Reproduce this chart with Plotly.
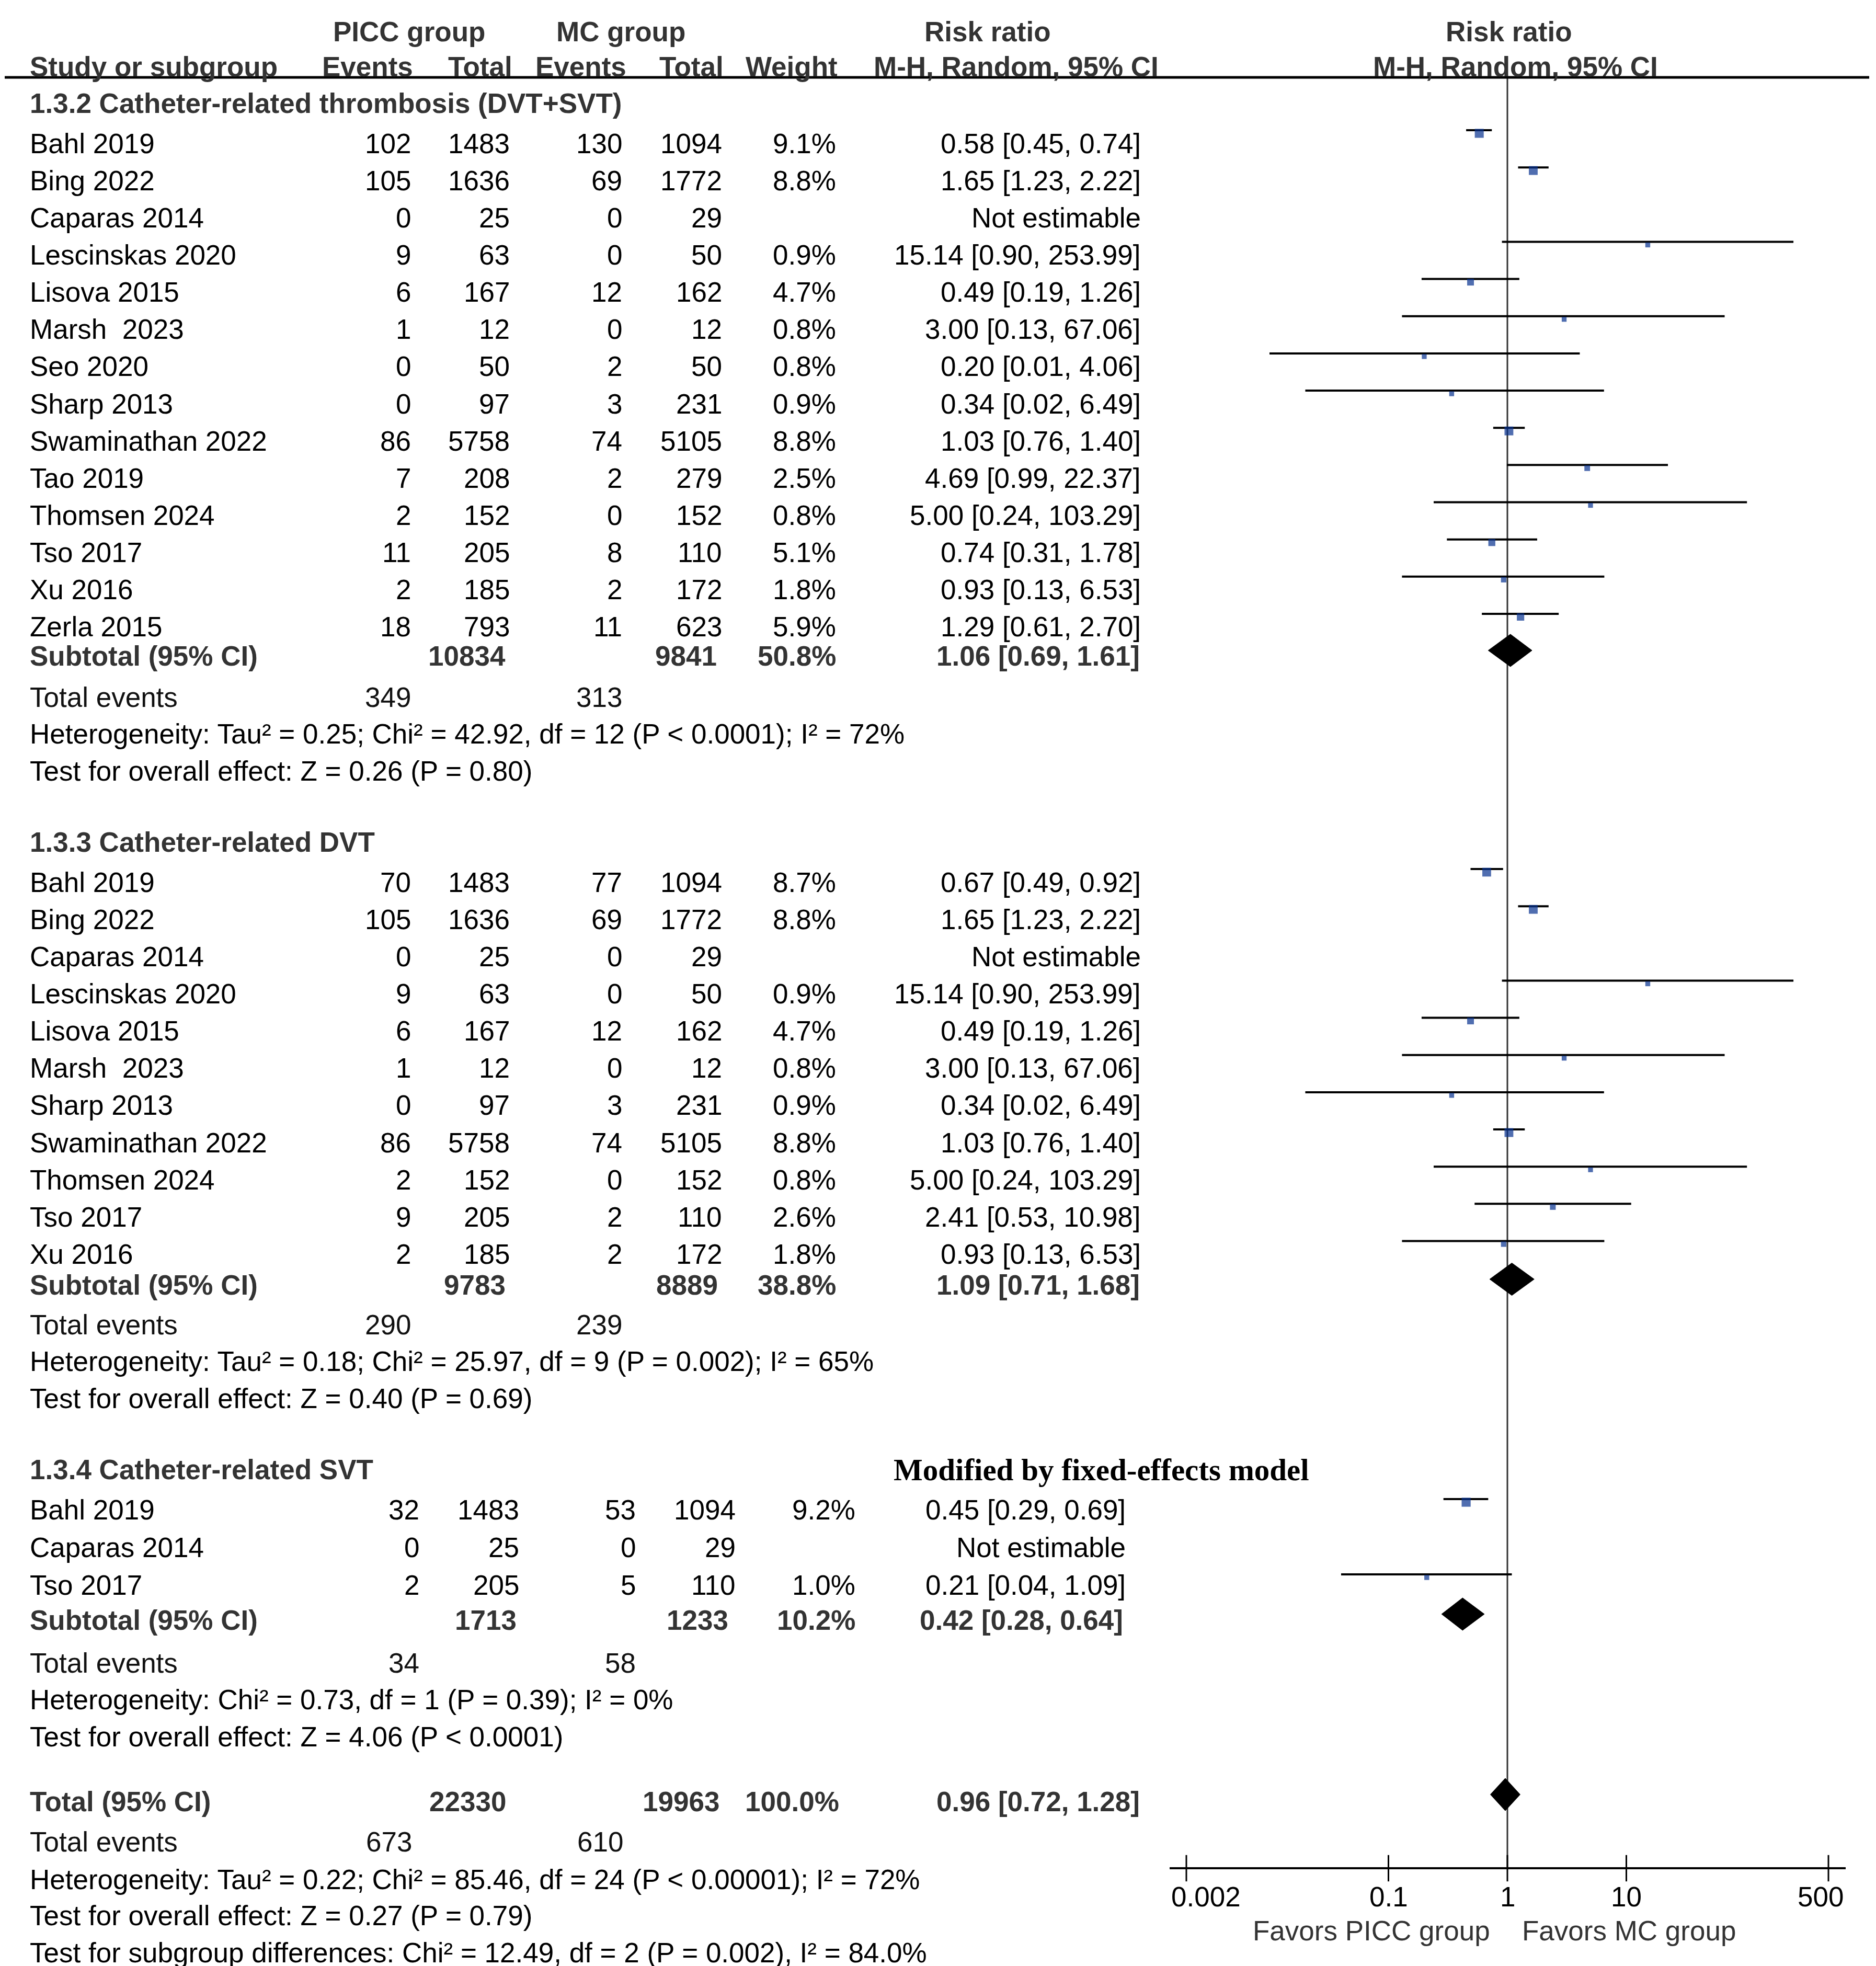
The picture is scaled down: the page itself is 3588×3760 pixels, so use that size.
import plotly.graph_objects as go
import math

# ---------------- data ----------------
# Subgroup 1.3.2
sg1_title = "1.3.2 Catheter-related thrombosis (DVT+SVT)"
sg1_study = ["Bahl 2019", "Bing 2022", "Caparas 2014", "Lescinskas 2020", "Lisova 2015",
             "Marsh\u00a0 2023", "Seo 2020", "Sharp 2013", "Swaminathan 2022", "Tao 2019",
             "Thomsen 2024", "Tso 2017", "Xu 2016", "Zerla 2015"]
sg1_picc_ev = [102, 105, 0, 9, 6, 1, 0, 0, 86, 7, 2, 11, 2, 18]
sg1_picc_n = [1483, 1636, 25, 63, 167, 12, 50, 97, 5758, 208, 152, 205, 185, 793]
sg1_mc_ev = [130, 69, 0, 0, 12, 0, 2, 3, 74, 2, 0, 8, 2, 11]
sg1_mc_n = [1094, 1772, 29, 50, 162, 12, 50, 231, 5105, 279, 152, 110, 172, 623]
sg1_weight = [9.1, 8.8, None, 0.9, 4.7, 0.8, 0.8, 0.9, 8.8, 2.5, 0.8, 5.1, 1.8, 5.9]
sg1_rr = [0.58, 1.65, None, 15.14, 0.49, 3.00, 0.20, 0.34, 1.03, 4.69, 5.00, 0.74, 0.93, 1.29]
sg1_lo = [0.45, 1.23, None, 0.90, 0.19, 0.13, 0.01, 0.02, 0.76, 0.99, 0.24, 0.31, 0.13, 0.61]
sg1_hi = [0.74, 2.22, None, 253.99, 1.26, 67.06, 4.06, 6.49, 1.40, 22.37, 103.29, 1.78, 6.53, 2.70]
sg1_sub = [10834, 9841, 50.8, 1.06, 0.69, 1.61]
sg1_events = [349, 313]
sg1_het = "Heterogeneity: Tau² = 0.25; Chi² = 42.92, df = 12 (P < 0.0001); I² = 72%"
sg1_test = "Test for overall effect: Z = 0.26 (P = 0.80)"

# Subgroup 1.3.3
sg2_title = "1.3.3 Catheter-related DVT"
sg2_study = ["Bahl 2019", "Bing 2022", "Caparas 2014", "Lescinskas 2020", "Lisova 2015",
             "Marsh\u00a0 2023", "Sharp 2013", "Swaminathan 2022", "Thomsen 2024", "Tso 2017", "Xu 2016"]
sg2_picc_ev = [70, 105, 0, 9, 6, 1, 0, 86, 2, 9, 2]
sg2_picc_n = [1483, 1636, 25, 63, 167, 12, 97, 5758, 152, 205, 185]
sg2_mc_ev = [77, 69, 0, 0, 12, 0, 3, 74, 0, 2, 2]
sg2_mc_n = [1094, 1772, 29, 50, 162, 12, 231, 5105, 152, 110, 172]
sg2_weight = [8.7, 8.8, None, 0.9, 4.7, 0.8, 0.9, 8.8, 0.8, 2.6, 1.8]
sg2_rr = [0.67, 1.65, None, 15.14, 0.49, 3.00, 0.34, 1.03, 5.00, 2.41, 0.93]
sg2_lo = [0.49, 1.23, None, 0.90, 0.19, 0.13, 0.02, 0.76, 0.24, 0.53, 0.13]
sg2_hi = [0.92, 2.22, None, 253.99, 1.26, 67.06, 6.49, 1.40, 103.29, 10.98, 6.53]
sg2_sub = [9783, 8889, 38.8, 1.09, 0.71, 1.68]
sg2_events = [290, 239]
sg2_het = "Heterogeneity: Tau² = 0.18; Chi² = 25.97, df = 9 (P = 0.002); I² = 65%"
sg2_test = "Test for overall effect: Z = 0.40 (P = 0.69)"

# Subgroup 1.3.4
sg3_title = "1.3.4 Catheter-related SVT"
sg3_note = "Modified by fixed-effects model"
sg3_study = ["Bahl 2019", "Caparas 2014", "Tso 2017"]
sg3_picc_ev = [32, 0, 2]
sg3_picc_n = [1483, 25, 205]
sg3_mc_ev = [53, 0, 5]
sg3_mc_n = [1094, 29, 110]
sg3_weight = [9.2, None, 1.0]
sg3_rr = [0.45, None, 0.21]
sg3_lo = [0.29, None, 0.04]
sg3_hi = [0.69, None, 1.09]
sg3_sub = [1713, 1233, 10.2, 0.42, 0.28, 0.64]
sg3_events = [34, 58]
sg3_het = "Heterogeneity: Chi² = 0.73, df = 1 (P = 0.39); I² = 0%"
sg3_test = "Test for overall effect: Z = 4.06 (P < 0.0001)"

# Overall
tot_sub = [22330, 19963, 100.0, 0.96, 0.72, 1.28]
tot_events = [673, 610]
tot_het = "Heterogeneity: Tau² = 0.22; Chi² = 85.46, df = 24 (P < 0.00001); I² = 72%"
tot_test = "Test for overall effect: Z = 0.27 (P = 0.79)"
tot_diff = "Test for subgroup differences: Chi² = 12.49, df = 2 (P = 0.002), I² = 84.0%"

tick_vals = [0.002, 0.1, 1, 10, 500]
tick_text = ["0.002", "0.1", "1", "10", "500"]
favors_left = "Favors PICC group"
favors_right = "Favors MC group"

# ---------------- layout constants ----------------
W, H = 3588, 3760
FONT = "Liberation Sans, Arial, sans-serif"
SERIF = "Liberation Serif, Times New Roman, serif"
FS = 53
DARK = "#333333"
BLUE = "#06308f"
RULE_Y = 148
AXIS_Y = 3573
AX_L, AX_R = 2237, 3530
PX_DEC = 227.5
X_ONE = 2883
rng_lo = -(X_ONE - AX_L) / PX_DEC
rng_hi = (AX_R - X_ONE) / PX_DEC

annotations = []


def txt(x, y, s, anchor="right", bold=False, color="#000000", size=FS, family=FONT):
    if bold:
        s = "<b>" + s + "</b>"
    annotations.append(dict(x=x / W, xref="paper", y=y, yref="y", text=s, showarrow=False,
                            xanchor=anchor, yanchor="middle",
                            font=dict(family=family, size=size, color=color)))


ci_x, ci_y = [], []
sq_x, sq_y, sq_s = [], [], []
diamonds = []


def fmt_rr(r, lo, hi):
    return f"{r:.2f} [{lo:.2f}, {hi:.2f}]"


def draw_group(p, title, study, pe, pn, me, mn, wt, rr, lo, hi, sub, events, het, test):
    cols = p["cols"]
    txt(55, p["head"], title, "left", bold=True, color=DARK)
    y = p["first"]
    last = y
    for i in range(len(study)):
        txt(55, y, study[i], "left")
        txt(cols[0], y, str(pe[i]))
        txt(cols[1], y, str(pn[i]))
        txt(cols[2], y, str(me[i]))
        txt(cols[3], y, str(mn[i]))
        if rr[i] is None:
            txt(cols[5], y, "Not estimable")
        else:
            txt(cols[4], y, f"{wt[i]:.1f}%")
            txt(cols[5], y, fmt_rr(rr[i], lo[i], hi[i]))
            ly = y + p["line_off"]
            ci_x.extend([lo[i], hi[i], None])
            ci_y.extend([ly, ly, None])
            sq_x.append(rr[i])
            sq_y.append(ly + 6)
            sq_s.append(8.5 + 0.95 * wt[i])
        last = y
        y += p["step"]
    ys = last + p["sub_gap"]
    sc = p["subcols"]
    txt(55, ys, "Subtotal (95% CI)", "left", bold=True, color=DARK)
    txt(sc[0], ys, str(sub[0]), bold=True, color=DARK)
    txt(sc[1], ys, str(sub[1]), bold=True, color=DARK)
    txt(sc[2], ys, f"{sub[2]:.1f}%", bold=True, color=DARK)
    txt(sc[3], ys, fmt_rr(sub[3], sub[4], sub[5]), bold=True, color=DARK)
    diamonds.append((sub[3], sub[4], sub[5], ys - 11))
    ye = ys + p["ev_gap"]
    txt(55, ye, "Total events", "left", color="#111111")
    txt(cols[0], ye, str(events[0]), color="#111111")
    txt(cols[2], ye, str(events[1]), color="#111111")
    txt(55, ye + 70, het, "left")
    txt(55, ye + 141, test, "left")


COLS_A = [788, 977, 1192, 1383, 1601, 2184]
COLS_B = [804, 995, 1218, 1409, 1638, 2155]

draw_group(dict(cols=COLS_A, head=197, first=274, step=71.15, line_off=-25, sub_gap=56, ev_gap=79,
                subcols=[969, 1373, 1601, 2182]),
           sg1_title, sg1_study, sg1_picc_ev, sg1_picc_n, sg1_mc_ev, sg1_mc_n, sg1_weight,
           sg1_rr, sg1_lo, sg1_hi, sg1_sub, sg1_events, sg1_het, sg1_test)
draw_group(dict(cols=COLS_A, head=1610, first=1687, step=71.15, line_off=-25, sub_gap=59, ev_gap=76,
                subcols=[969, 1375, 1601, 2182]),
           sg2_title, sg2_study, sg2_picc_ev, sg2_picc_n, sg2_mc_ev, sg2_mc_n, sg2_weight,
           sg2_rr, sg2_lo, sg2_hi, sg2_sub, sg2_events, sg2_het, sg2_test)
draw_group(dict(cols=COLS_B, head=2810, first=2887, step=72, line_off=-20, sub_gap=67, ev_gap=82,
                subcols=[990, 1395, 1638, 2150]),
           sg3_title, sg3_study, sg3_picc_ev, sg3_picc_n, sg3_mc_ev, sg3_mc_n, sg3_weight,
           sg3_rr, sg3_lo, sg3_hi, sg3_sub, sg3_events, sg3_het, sg3_test)
txt(1707, 2811, sg3_note, "left", bold=True, color="#000000", size=59, family=SERIF)

# overall
YT = 3445
txt(55, YT, "Total (95% CI)", "left", bold=True, color=DARK)
txt(970, YT, str(tot_sub[0]), bold=True, color=DARK)
txt(1378, YT, str(tot_sub[1]), bold=True, color=DARK)
txt(1607, YT, f"{tot_sub[2]:.1f}%", bold=True, color=DARK)
txt(2182, YT, fmt_rr(tot_sub[3], tot_sub[4], tot_sub[5]), bold=True, color=DARK)
diamonds.append((tot_sub[3], tot_sub[4], tot_sub[5], YT - 13))
txt(55, 3522, "Total events", "left", color="#111111")
txt(790, 3522, str(tot_events[0]), color="#111111")
txt(1194, 3522, str(tot_events[1]), color="#111111")
txt(55, 3594, tot_het, "left")
txt(55, 3663, tot_test, "left")
txt(55, 3734, tot_diff, "left")

# header
txt(782, 60, "PICC group", "center", bold=True, color=DARK)
txt(1187, 60, "MC group", "center", bold=True, color=DARK)
txt(1889, 60, "Risk ratio", "center", bold=True, color=DARK)
txt(2886, 60, "Risk ratio", "center", bold=True, color=DARK)
txt(55, 127, "Study or subgroup", "left", bold=True, color=DARK)
txt(792, 127, "Events", bold=True, color=DARK)
txt(982, 127, "Total", bold=True, color=DARK)
txt(1200, 127, "Events", bold=True, color=DARK)
txt(1386, 127, "Total", bold=True, color=DARK)
txt(1604, 127, "Weight", bold=True, color=DARK)
txt(2218, 127, "M-H, Random, 95% CI", bold=True, color=DARK)
txt(2898, 127, "M-H, Random, 95% CI", "center", bold=True, color=DARK)

# axis labels
for v, t in zip(tick_vals, tick_text):
    anchor, shift = "center", 0
    if v == tick_vals[0]:
        anchor, shift = "left", -31
    elif v == tick_vals[-1]:
        anchor, shift = "right", 31
    annotations.append(dict(x=math.log10(v), xref="x", y=3627, yref="y", text=t, showarrow=False,
                            xanchor=anchor, xshift=shift, yanchor="middle",
                            font=dict(family=FONT, size=FS, color="#000000")))
txt(2852, 3692, favors_left, "right", color=DARK)
txt(2909, 3692, favors_right, "left", color=DARK)

fig = go.Figure()
# null line
fig.add_trace(go.Scatter(x=[1, 1], y=[RULE_Y, AXIS_Y], mode="lines",
                         line=dict(color="#333333", width=3), hoverinfo="skip"))
# CI lines
fig.add_trace(go.Scatter(x=ci_x, y=ci_y, mode="lines", line=dict(color="#000000", width=4),
                         hoverinfo="skip", connectgaps=False))
# squares
fig.add_trace(go.Scatter(x=sq_x, y=sq_y, mode="markers",
                         marker=dict(symbol="square", size=sq_s, color=BLUE, line=dict(width=0)),
                         hoverinfo="skip"))
# diamonds
for est, lo, hi, yc in diamonds:
    fig.add_trace(go.Scatter(x=[lo, est, hi, est, lo], y=[yc, yc - 31, yc, yc + 31, yc],
                             mode="lines", fill="toself", fillcolor="#000000",
                             line=dict(color="#000000", width=1), hoverinfo="skip"))
# tick marks
fig.add_trace(go.Scatter(x=tick_vals, y=[AXIS_Y] * len(tick_vals), mode="markers",
                         marker=dict(symbol="line-ns", size=36, line=dict(color="#000000", width=3)),
                         hoverinfo="skip"))

shapes = [
    dict(type="line", xref="paper", yref="y", x0=9 / W, x1=3575 / W, y0=RULE_Y, y1=RULE_Y,
         line=dict(color="#000000", width=5)),
    dict(type="line", xref="x domain", yref="y", x0=0, x1=1, y0=AXIS_Y, y1=AXIS_Y,
         line=dict(color="#000000", width=4)),
]

fig.update_layout(
    width=W, height=H, margin=dict(l=0, r=0, t=0, b=0),
    paper_bgcolor="white", plot_bgcolor="white", showlegend=False,
    xaxis=dict(type="log", domain=[AX_L / W, AX_R / W], range=[rng_lo, rng_hi], visible=False),
    yaxis=dict(range=[H, 0], domain=[0, 1], visible=False),
    annotations=annotations, shapes=shapes,
)
fig.write_html("out.html", config={"displayModeBar": False},
               post_script="document.body.style.margin='0';document.documentElement.style.overflow='hidden';")
